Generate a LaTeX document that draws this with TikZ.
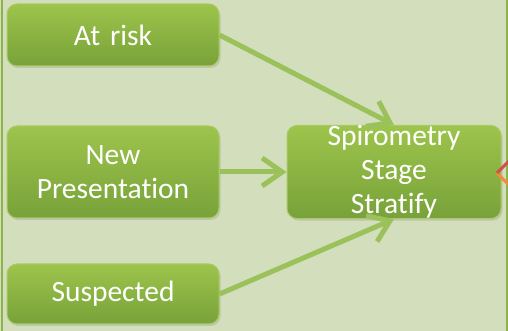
\documentclass[tikz,border=0pt]{standalone}
\usepackage{fontspec}
\setmainfont[Ligatures=NoCommon]{Carlito}
\usepackage{tikz}
\usetikzlibrary{shapes,arrows.meta,positioning,shadows,calc}
\definecolor{paneback}{HTML}{D3DEBC}
\definecolor{paneedge}{HTML}{8DB44A}
\definecolor{boxtop}{HTML}{9DC44B}
\definecolor{boxbottom}{HTML}{78A23A}
\definecolor{boxedge}{HTML}{A9CB66}
\definecolor{flowgreen}{HTML}{9BC15A}
\definecolor{diaorange}{HTML}{F08C3C}
\definecolor{diared}{HTML}{D0504F}

\begin{document}
\begin{tikzpicture}[
    x=1pt, y=1pt,
    every node/.style={font=\fontsize{29.5}{34}\selectfont},
    box/.style={rectangle, draw=boxedge, top color=boxtop, bottom color=boxbottom, text=white,
                text width=212pt, align=center, rounded corners=10pt, minimum width=212pt,
                inner sep=0pt, line width=1pt,
                drop shadow={opacity=0.25, shadow xshift=1.5pt, shadow yshift=-2pt}},
    flow/.style={-{Straight Barb[length=20pt, width=28pt]}, line width=5pt, color=flowgreen}
]
    % page and frame
    \fill[paneback] (0,0) rectangle (508,331);
    \useasboundingbox (0,0) rectangle (508,331);
    \draw[paneedge, line width=2pt] (2,0) -- (2,331);
    \draw[paneedge, line width=2pt] (507,0) -- (507,331);

    \node[box, minimum height=62pt] (risk) at (113,296) {At risk};
    \node[box, minimum height=92pt, below=59pt of risk] (new) {New\\Presentation};
    \node[box, minimum height=60pt, below=45pt of new] (suspected) {Suspected};
    \node[box, minimum height=92pt, minimum width=214pt, text width=214pt,
          right=67pt of new] (spiro) {Spirometry\\Stage\\Stratify};

    % partly hidden diamond at the right
    \draw[diaorange, line width=3pt] (497,158) -- (510,145);
    \draw[diared, line width=3pt] (497,158) -- (510,171);

    \draw[flow] (risk.east) -- (spiro.north);
    \draw[flow] (new.east) -- (spiro.west);
    \draw[flow] (suspected.east) -- (spiro.south);
\end{tikzpicture}
\end{document}
